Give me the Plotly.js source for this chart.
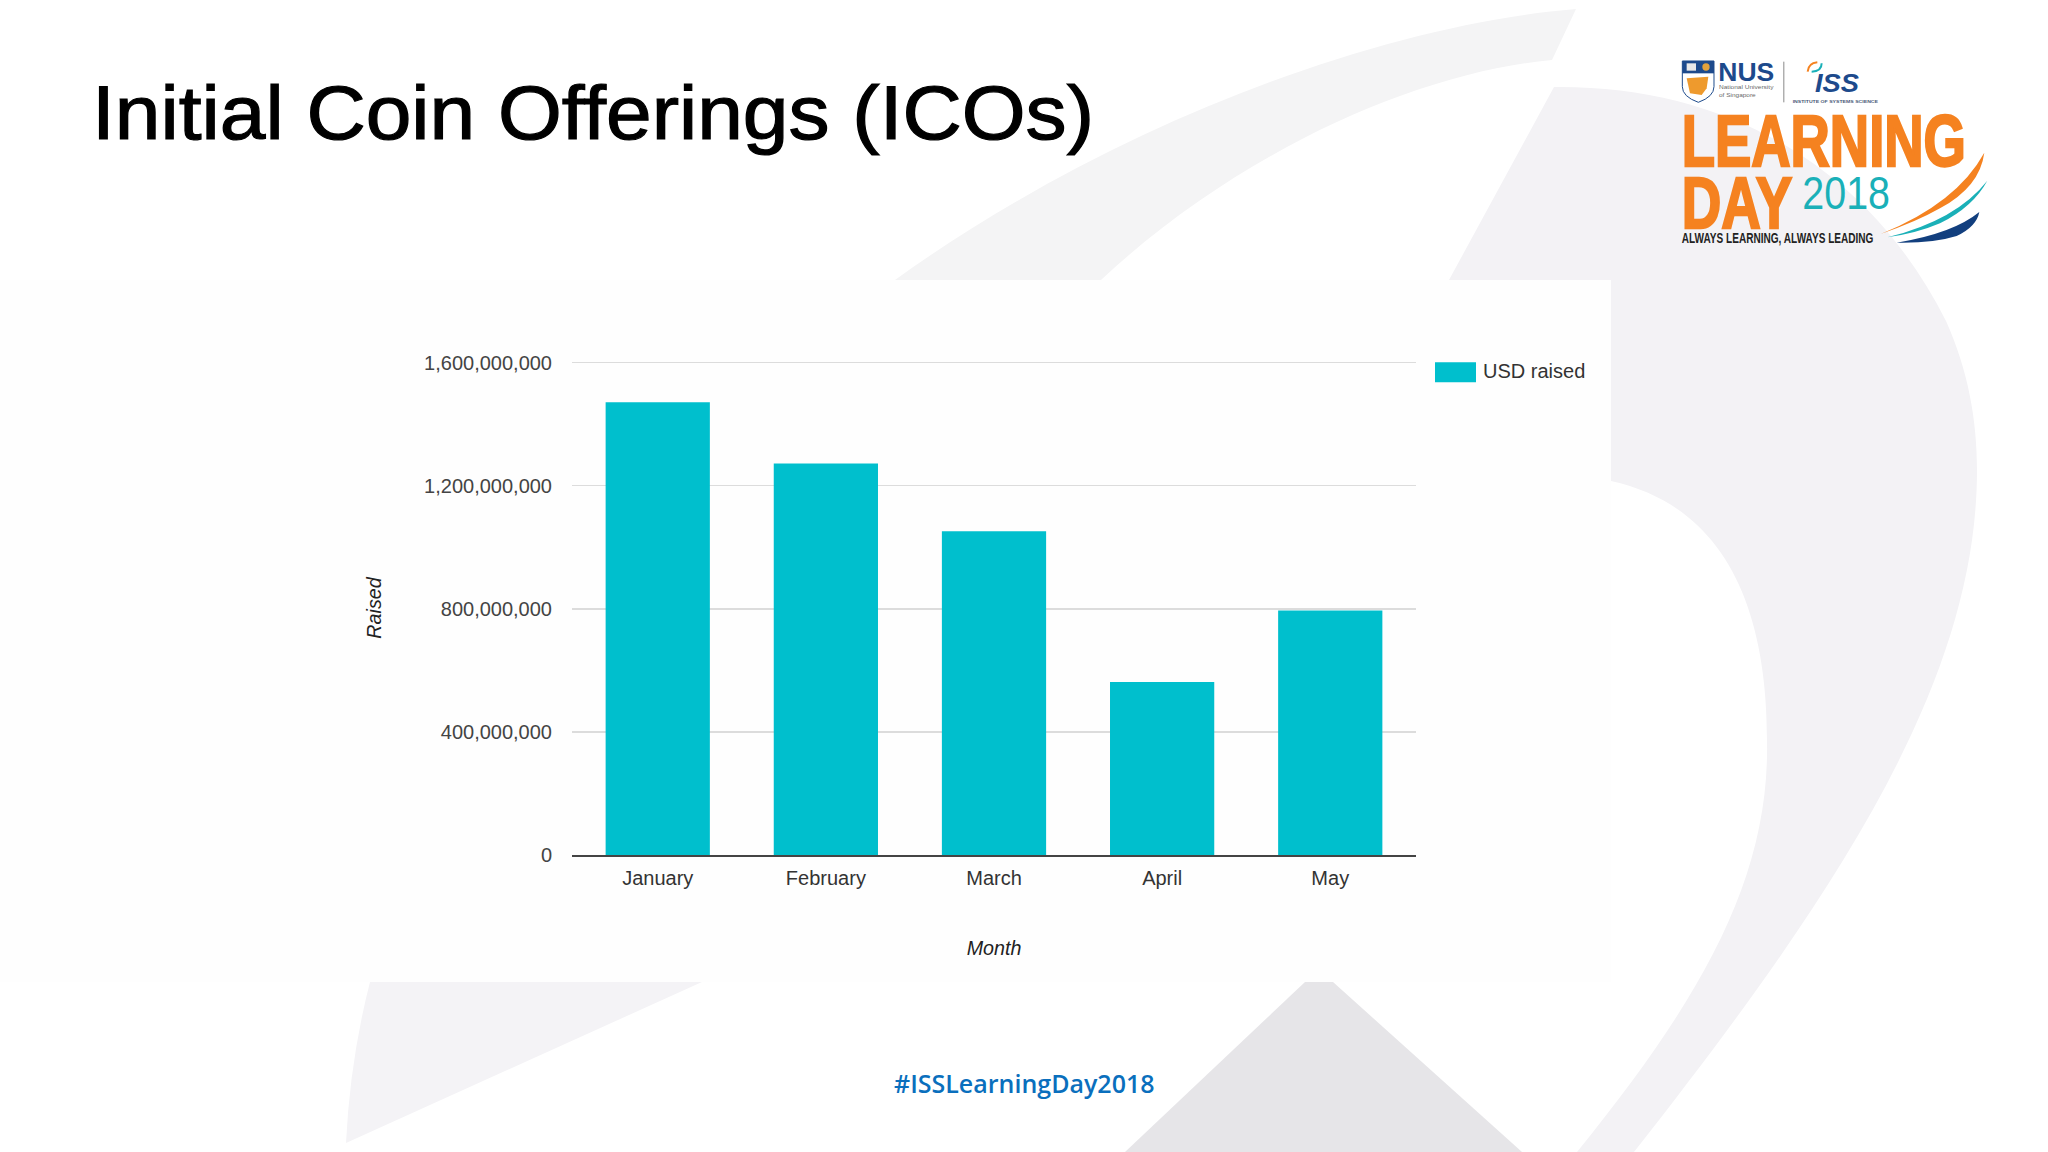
<!DOCTYPE html>
<html>
<head>
<meta charset="utf-8">
<script src="https://cdn.plot.ly/plotly-3.0.1.min.js"></script>
<style>
html,body{margin:0;padding:0;background:#ffffff;width:2048px;height:1152px;overflow:hidden}
#bg,#logo,#chart{position:absolute;left:0;top:0;width:2048px;height:1152px}
</style>
</head>
<body>
<svg id="bg" viewBox="0 0 2048 1152" xmlns="http://www.w3.org/2000/svg">
  <path d="M1576,9 C1380,25 1110,125 895,280 L1101,280 C1240,150 1420,72 1552,60 Z" fill="#f4f4f5"/>
  <path d="M1554,87 C1730,85 1870,170 1946,321 C1968,370 1977,420 1977,470 C1977,680 1840,890 1634,1152 L1577,1152 C1700,1000 1770,880 1767,740 C1767,600 1720,505 1611,481 L1611,280 L1449,280 Z" fill="#f3f2f5"/>
  <path d="M370,982 L702,982 L346,1143 Q350,1060 370,982 Z" fill="#f4f3f6"/>
  <path d="M1305,982 L1333,982 L1522,1152 L1125,1152 Z" fill="#e6e5e8"/>
  <rect x="0" y="280" width="1611" height="702" fill="#fefefe"/>
</svg>
<svg id="logo" viewBox="0 0 2048 1152" xmlns="http://www.w3.org/2000/svg">
  <g transform="translate(1640,30) scale(0.3333)">
    <path d="M127,93 H222 V170 Q222,200 175,217 Q127,200 127,170 Z" fill="#ffffff" stroke="#1d4a8c" stroke-width="3"/>
    <rect x="127" y="93" width="95" height="37" fill="#1d4a8c"/>
    <rect x="140" y="100" width="28" height="22" fill="#e9e9e9"/>
    <circle cx="198" cy="111" r="11" fill="#e3a23c"/>
    <path d="M140,145 L205,140 L200,175 L185,195 L150,190 Z" fill="#ee9a2d"/>
    <text class="fit" data-w="168" x="235" y="152" font-family="Liberation Sans" font-weight="700" font-size="78" fill="#1d4a8c">NUS</text>
    <text class="fit" data-w="163" x="237" y="178" font-family="Liberation Sans" font-size="18" fill="#6a6a6a">National University</text>
    <text class="fit" data-w="110" x="237" y="200" font-family="Liberation Sans" font-size="18" fill="#6a6a6a">of Singapore</text>
    <rect x="430" y="95" width="3" height="122" fill="#8a8a8a"/>
    <path d="M503,125 Q505,100 532,97" fill="none" stroke="#f58220" stroke-width="6"/>
    <path d="M515,125 Q545,125 545,100" fill="none" stroke="#1ab0b8" stroke-width="6"/>
    <text class="fit" data-w="132" x="525" y="187" font-family="Liberation Sans" font-style="italic" font-weight="700" font-size="76" fill="#1d4a8c">ISS</text>
    <text class="fit" data-w="256" x="458" y="218" font-family="Liberation Sans" font-weight="700" font-size="13" fill="#4a5a78">INSTITUTE OF SYSTEMS SCIENCE</text>
    <text class="fit" data-w="853" x="125" y="408" font-family="Liberation Sans Narrow, Liberation Sans" font-weight="700" font-size="216" fill="#f58220" stroke="#f58220" stroke-width="7">LEARNING</text>
    <text class="fit" data-w="332" x="125" y="595" font-family="Liberation Sans Narrow, Liberation Sans" font-weight="700" font-size="216" fill="#f58220" stroke="#f58220" stroke-width="7">DAY</text>
    <text class="fit" data-w="263" x="487" y="538" font-family="Liberation Sans" font-size="136" fill="#1ab0b8">2018</text>
    <text class="fit" data-w="575" x="125" y="638" font-family="Liberation Sans Narrow, Liberation Sans" font-weight="700" font-size="42" fill="#222222">ALWAYS LEARNING, ALWAYS LEADING</text>
    <path d="M722,612 Q950,520 1033,368 Q1020,470 900,535 Q830,575 722,612 Z" fill="#f58220"/>
    <path d="M742,622 Q950,570 1042,452 Q1000,530 900,580 Q830,610 742,622 Z" fill="#1ab0b8"/>
    <path d="M770,638 Q940,610 1018,546 Q1010,590 950,618 Q880,640 770,638 Z" fill="#123f7e"/>
  </g>
</svg>
<div id="chart"></div>
<script>
// Chart data
const months = ["January", "February", "March", "April", "May"];
const usdRaised = [1471000000, 1272000000, 1052000000, 562000000, 794000000];
const tickValues = [0, 400000000, 800000000, 1200000000, 1600000000];
const tickLabels = ["0", "400,000,000", "800,000,000", "1,200,000,000", "1,600,000,000"];
const seriesName = "USD raised";

// Squeeze logo lettering to its measured width
document.querySelectorAll("text.fit").forEach(t => {
  const w = +t.dataset.w, x = +t.getAttribute("x"), y = +t.getAttribute("y");
  const s = w / t.getComputedTextLength();
  t.setAttribute("transform", "translate(" + x + "," + y + ") scale(" + s + ",1) translate(" + (-x) + "," + (-y) + ")");
});

// Plot area in page pixels
const W = 2048, H = 1152, L = 572, R = 1416, B = 855.2;
const yMax = 1605000000;
const perUnit = 492.8 / 1600000000;
const T = B - yMax * perUnit;
const px = x => (x - L) / (R - L);
const py = y => (B - y) / (B - T);
const font = "Liberation Sans, Arial, sans-serif";

const trace = {
  type: "bar", x: months, y: usdRaised, name: seriesName,
  marker: {color: "#00bfcd"}, showlegend: true,
  hoverinfo: "x+y"
};
const layout = {
  width: W, height: H,
  margin: {l: L, r: W - R, t: T, b: H - B, pad: 0},
  paper_bgcolor: "rgba(0,0,0,0)", plot_bgcolor: "rgba(0,0,0,0)",
  bargap: 0.38,
  showlegend: true,
  title: {text: "Initial Coin Offerings (ICOs)", x: 92/W, xanchor: "left", xref: "container",
          y: 1 - 112/H, yanchor: "middle", yref: "container",
          font: {family: font, size: 76, color: "#000000"}},
  xaxis: {type: "category", categoryorder: "array", categoryarray: months, range: [-0.51, 4.51],
          showgrid: false, showline: true, linecolor: "#444444", linewidth: 1.6,
          ticks: "", tickfont: {family: font, size: 20, color: "#333333"},
          ticklabelstandoff: 4, automargin: false,
          title: {text: "Month", standoff: 53, font: {family: font, size: 19.7, color: "#222222", style: "italic"}}},
  yaxis: {range: [0, yMax], tickmode: "array", tickvals: tickValues, ticktext: tickLabels,
          showgrid: true, gridcolor: "#dcdcdc", gridwidth: 1.5, zeroline: false,
          showline: false, ticks: "", tickfont: {family: font, size: 20, color: "#444444"},
          ticklabelstandoff: 19, automargin: false,
          title: {text: "Raised", standoff: 37, font: {family: font, size: 19.7, color: "#222222", style: "italic"}}},
  legend: {x: px(1428), y: py(351), xanchor: "left", yanchor: "top",
           itemwidth: 45, bgcolor: "rgba(0,0,0,0)", borderwidth: 0,
           font: {family: font, size: 20, color: "#333333"}},
  shapes: [{type: "rect", xref: "paper", yref: "paper", layer: "below",
            x0: px(1435), x1: px(1476), y0: py(382), y1: py(362),
            fillcolor: "#00bfcd", line: {width: 0}}],
  annotations: [{xref: "paper", yref: "paper", x: px(1024), y: py(1083), xanchor: "center", yanchor: "middle",
                 showarrow: false, text: "#ISSLearningDay2018",
                 font: {family: "Open Sans, sans-serif", size: 25, color: "#0a6fbd", weight: 600}}]
};
Plotly.newPlot("chart", [trace], layout, {displayModeBar: false, staticPlot: true}).then(gd => {
  // The reference's title is stretched and a little heavier than plain Liberation Sans
  const title = gd.querySelector(".gtitle");
  if (title) {
    title.setAttribute("textLength", "1002");
    title.setAttribute("lengthAdjust", "spacingAndGlyphs");
    title.style.stroke = "#000000";
    title.style.strokeWidth = "1.2px";
  }
});
</script>
</body>
</html>
